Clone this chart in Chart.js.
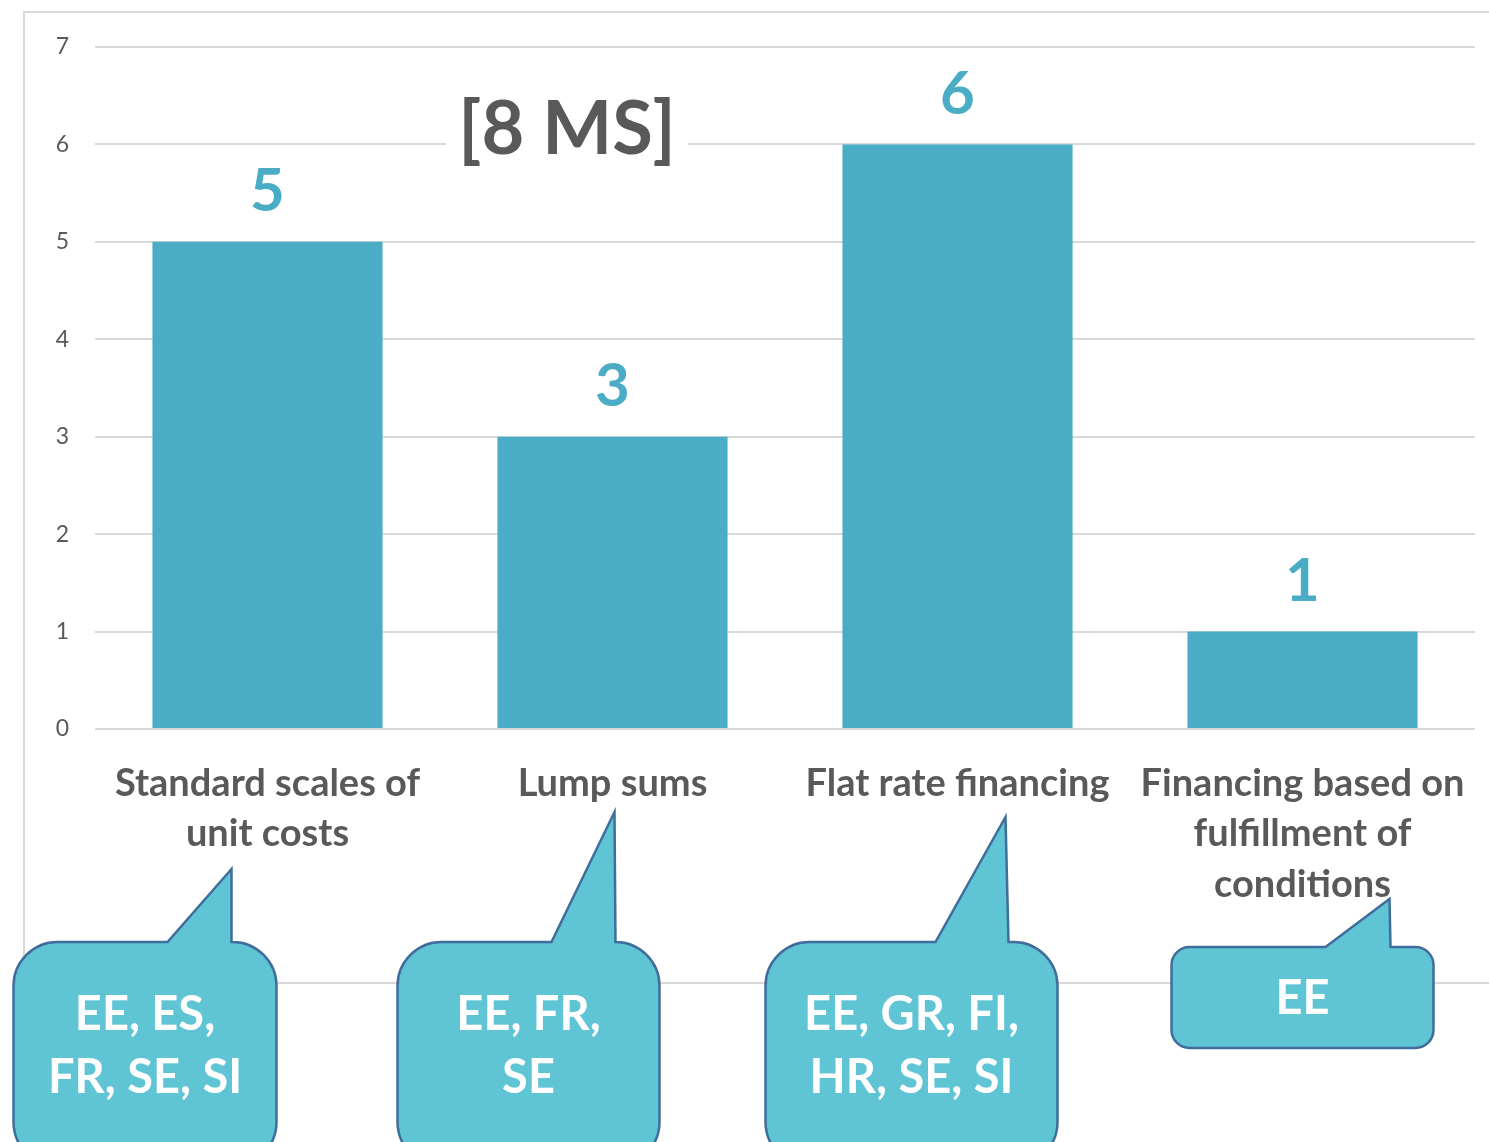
<!DOCTYPE html>
<html>
<head>
<meta charset="utf-8">
<script src="https://cdn.jsdelivr.net/npm/chart.js@4.4.1/dist/chart.umd.min.js"></script>
<style>
  html, body { margin: 0; padding: 0; background: #fff; overflow: hidden; }
  canvas { display: block; }
</style>
</head>
<body>
<canvas id="chart" width="1489" height="1142"></canvas>
<script>
// chart data
const categories = [
  ['Standard scales of', 'unit costs'],
  ['Lump sums'],
  ['Flat rate financing'],
  ['Financing based on', 'fulfillment of', 'conditions']
];
const counts = [5, 3, 6, 1];
const memberStates = [
  ['EE, ES,', 'FR, SE, SI'],
  ['EE, FR,', 'SE'],
  ['EE, GR, FI,', 'HR, SE, SI'],
  ['EE']
];
const yMin = 0, yMax = 7, yStep = 1;
const titleText = '[8 MS]';

const FONT = 'Lato, "Open Sans", sans-serif';
const GREY_TEXT = '#595959';
const BAR_COLOR = '#4BACC6';

// callout shapes, offsets from the category centre (layout only)
const calloutShapes = [
  { l: -254, r: 9,   t: 942, b: 1166, rad: 44, b1: -100, b2: -36, tx: -36, ty: 869, lines: [1015, 1078] },
  { l: -215, r: 47,  t: 942, b: 1166, rad: 44, b1: -61,  b2: 3,   tx: 2,   ty: 812, lines: [1015, 1078] },
  { l: -192, r: 100, t: 942, b: 1166, rad: 44, b1: -22,  b2: 51,  tx: 48,  ty: 817, lines: [1015, 1078] },
  { l: -131, r: 131, t: 947, b: 1048, rad: 18, b1: 23,   b2: 88,  tx: 87,  ty: 899, lines: [999] }
];

// light grey frame around the plot (Excel chart area border)
const framePlugin = {
  id: 'frame',
  beforeDraw(chart) {
    const ctx = chart.ctx;
    ctx.save();
    ctx.fillStyle = '#fff';
    ctx.fillRect(0, 0, chart.width, chart.height);
    ctx.strokeStyle = '#D9D9D9';
    ctx.lineWidth = 2;
    ctx.strokeRect(24, 12, chart.width + 20, 971);
    ctx.restore();
  }
};

// big value numbers above the bars
const valueLabels = {
  id: 'valueLabels',
  afterDatasetsDraw(chart) {
    const ctx = chart.ctx;
    const meta = chart.getDatasetMeta(0);
    ctx.save();
    ctx.fillStyle = BAR_COLOR;
    ctx.font = 'bold 60px ' + FONT;
    ctx.textAlign = 'center';
    ctx.textBaseline = 'middle';
    meta.data.forEach((bar, i) => {
      ctx.fillText(String(counts[i]), bar.x, bar.y - 50);
    });
    ctx.restore();
  }
};

// "[8 MS]" box sitting on the 6 gridline
const titleBox = {
  id: 'titleBox',
  afterDatasetsDraw(chart) {
    const ctx = chart.ctx;
    const y = chart.scales.y.getPixelForValue(6);
    ctx.save();
    ctx.font = 'bold 74px ' + FONT;
    const w = ctx.measureText(titleText).width;
    const cx = 567;
    ctx.fillStyle = '#fff';
    ctx.fillRect(cx - w / 2 - 12, y - 40, w + 24, 80);
    ctx.fillStyle = GREY_TEXT;
    ctx.textAlign = 'center';
    ctx.textBaseline = 'middle';
    ctx.fillText(titleText, cx, y - 14);
    ctx.restore();
  }
};

function calloutPath(ctx, s, c) {
  const l = c + s.l, r = c + s.r, t = s.t, b = s.b, rad = s.rad;
  ctx.beginPath();
  ctx.moveTo(l + rad, t);
  ctx.lineTo(c + s.b1, t);
  ctx.lineTo(c + s.tx, s.ty);
  ctx.lineTo(c + s.b2, t);
  ctx.lineTo(r - rad, t);
  ctx.arcTo(r, t, r, t + rad, rad);
  ctx.lineTo(r, b - rad);
  ctx.arcTo(r, b, r - rad, b, rad);
  ctx.lineTo(l + rad, b);
  ctx.arcTo(l, b, l, b - rad, rad);
  ctx.lineTo(l, t + rad);
  ctx.arcTo(l, t, l + rad, t, rad);
  ctx.closePath();
}

// speech bubbles listing the member states
const callouts = {
  id: 'callouts',
  afterDraw(chart) {
    const ctx = chart.ctx;
    const xs = chart.scales.x;
    ctx.save();
    memberStates.forEach((lines, i) => {
      const s = calloutShapes[i];
      const c = xs.getPixelForValue(i);
      calloutPath(ctx, s, c);
      ctx.fillStyle = '#5FC4D4';
      ctx.fill();
      ctx.strokeStyle = '#3F6E9C';
      ctx.lineWidth = 2.5;
      ctx.stroke();
      ctx.fillStyle = '#fff';
      ctx.font = 'bold 47px ' + FONT;
      ctx.textAlign = 'center';
      ctx.textBaseline = 'middle';
      const mid = c + (s.l + s.r) / 2;
      lines.forEach((txt, j) => ctx.fillText(txt, mid, s.lines[j]));
    });
    ctx.restore();
  }
};

new Chart(document.getElementById('chart'), {
  type: 'bar',
  data: {
    labels: categories,
    datasets: [{
      data: counts,
      backgroundColor: BAR_COLOR,
      categoryPercentage: 1,
      barPercentage: 0.667
    }]
  },
  options: {
    responsive: false,
    animation: false,
    devicePixelRatio: 1,
    layout: { padding: { top: 47, right: 14, left: 0, bottom: 0 } },
    plugins: {
      legend: { display: false },
      tooltip: { enabled: false },
      title: { display: false }
    },
    scales: {
      x: {
        grid: { display: false },
        border: { display: false },
        ticks: {
          color: GREY_TEXT,
          font: { family: FONT, size: 38, weight: 'bold', lineHeight: 1.32 },
          padding: 22,
          maxRotation: 0,
          autoSkip: false
        },
        afterFit(scale) { scale.height = 413; }
      },
      y: {
        min: yMin,
        max: yMax,
        grid: { color: '#D9D9D9', lineWidth: 2, drawTicks: false },
        border: { display: false },
        ticks: {
          stepSize: yStep,
          color: GREY_TEXT,
          font: { family: FONT, size: 23 },
          padding: 26
        },
        afterFit(scale) { scale.width = 95; }
      }
    }
  },
  plugins: [framePlugin, valueLabels, titleBox, callouts]
});
</script>
</body>
</html>
